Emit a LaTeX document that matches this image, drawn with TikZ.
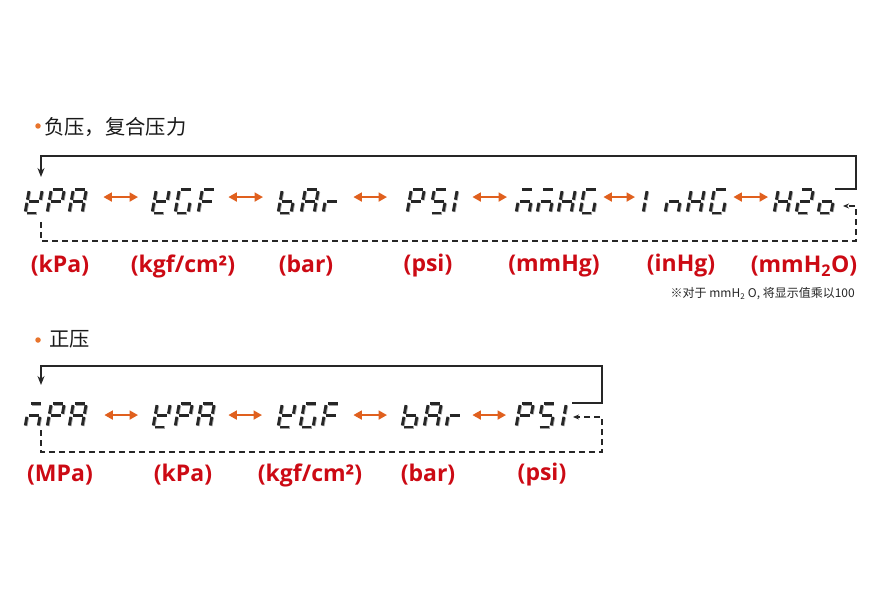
\documentclass[tikz,border=0pt]{standalone}
\usepackage{fontspec}
\setmainfont{Open Sans}
\newfontfamily\cjk{Noto Sans CJK SC}
\usetikzlibrary{arrows.meta}
\definecolor{unitred}{HTML}{CC0A14}
\definecolor{swaporange}{HTML}{E0601E}
\definecolor{dotorange}{HTML}{E8742C}
\definecolor{lcdshade}{HTML}{A0A0A0}
% seven-segment glyphs: a top, b/c right, d bottom, e/f left, g middle
\newcommand\lcdK{b,d,e,f,g}
\newcommand\lcdP{a,b,e,f,g}
\newcommand\lcdA{a,b,c,e,f,g}
\newcommand\lcdG{a,c,d,e,f}
\newcommand\lcdF{a,e,f,g}
\newcommand\lcdB{c,d,e,f,g}
\newcommand\lcdR{e,g}
\newcommand\lcdS{a,c,d,f,g}
\newcommand\lcdI{e,f}
\newcommand\lcdM{a,c,e,g}
\newcommand\lcdN{c,e,g}
\newcommand\lcdH{b,c,e,f,g}
\newcommand\lcdTwo{a,b,d,e,g}
\newcommand\lcdO{c,d,e,g}
\newcommand\segpair[4]{%
 \draw[segshade,xshift=.9pt,yshift=-.6pt](#1,#2)--(#3,#4);
 \draw[segline](#1,#2)--(#3,#4);}
\newcommand\lcdseg[1]{%
 \if#1a\segpair{1.6}{-23.5}{11.4}{-23.5}\fi
 \if#1b\segpair{13}{-21.9}{13}{-13.3}\fi
 \if#1c\segpair{13}{-10.2}{13}{-1.6}\fi
 \if#1d\segpair{1.6}{0}{11.4}{0}\fi
 \if#1e\segpair{0}{-1.6}{0}{-10.2}\fi
 \if#1f\segpair{0}{-13.3}{0}{-21.9}\fi
 \if#1g\segpair{1.6}{-11.75}{11.4}{-11.75}\fi}
\begin{document}
\begin{tikzpicture}[
 x=1pt,y=-1pt,
 segline/.style={line width=2.8pt,black!85},
 segshade/.style={line width=2.8pt,lcdshade},
 pics/lcd/.style={code={\edef\seglist{#1}%
  \begin{scope}[xslant=.18]\foreach \s in \seglist {\lcdseg{\s}}\end{scope}}},
 word/.style={anchor=south west,inner sep=0pt,minimum height=23.5pt},
 swap/.style={swaporange,line width=1.9pt,
  {Triangle[length=8.5pt,width=9pt]}-{Triangle[length=8.5pt,width=9pt]}},
 loopline/.style={line width=1.3pt,black!85},
 dashline/.style={loopline,dash pattern=on 6pt off 4pt},
 unit/.style={text=unitred,font=\fontsize{23}{26}\selectfont\bfseries},
 head/.style={anchor=west,inner sep=0pt,text=black!90,font=\fontsize{20.3}{23}\cjk},
 dot/.style={circle,fill=dotorange,inner sep=0pt,minimum size=5.5pt},
 note/.style={anchor=east,inner sep=0pt,text=black!85,font=\fontsize{12}{14}\cjk}]
 \useasboundingbox (0,0) rectangle (890,593);
 % negative and compound pressure
 \node[dot] (dneg) at (38,126){};
 \node[head] (hneg) at (44,127){负压，复合压力};
 \foreach \gx/\gl in {25/\lcdK,47/\lcdP,69/\lcdA,152/\lcdK,175/\lcdG,198/\lcdF,
  278/\lcdB,301/\lcdA,323/\lcdR,407/\lcdP,430/\lcdS,453/\lcdI,
  516/\lcdM,537/\lcdM,558/\lcdH,580/\lcdG,643/\lcdI,665/\lcdN,687/\lcdH,710/\lcdG,
  774/\lcdH,796/\lcdTwo,818/\lcdO}
  \pic at (\gx,213){lcd=\gl};
 \foreach \nm/\wx/\ww in {kpa/25/61,kgfa/152/63,bara/278/62,psia/407/50,
  mmhg/516/81,inhg/643/84,htwo/774/61}
  \node[word,minimum width=\ww pt] (\nm) at (\wx,213){};
 \foreach \a/\b/\sa/\sb in {kpa/kgfa/17/14,kgfa/bara/13/15,bara/psia/13/20,
  psia/mmhg/15/9,mmhg/inhg/6/8,inhg/htwo/6/6}
  \draw[swap,shorten <=\sa pt,shorten >=\sb pt] ([yshift=4pt]\a.east) -- ([yshift=4pt]\b.west);
 \coordinate (tra) at (856,156); \coordinate (ina) at (41,177);
 \coordinate (outa) at (41,222); \coordinate (bra) at (856,241);
 \coordinate (inb) at (843,206);
 \draw[loopline,-{Stealth[length=9pt,width=7pt]}] (htwo.north east) -| (tra) -| (ina);
 \draw[dashline,-{Stealth[length=6pt,width=5pt]}] (outa) |- (bra) |- (inb);
 \node[unit] (ukpa) at (60,266){(kPa)};
 \node[unit] (ukgfa) at (183,266){(kgf/cm²)};
 \node[unit] (ubara) at (306,266){(bar)};
 \node[unit] (upsia) at (428,266){(psi)};
 \node[unit] (ummhg) at (554,266){(mmHg)};
 \node[unit] (uinhg) at (681,266){(inHg)};
 \node[unit] (uhtwo) at (804,266){(mmH\textsubscript{2}O)};
 \node[note] (note) at (855,294){※对于 mmH\textsubscript{2} O, 将显示值乘以100};
 % positive pressure
 \node[dot] (dpos) at (38,340){};
 \node[head] (hpos) at (49,339){正压};
 \foreach \gx/\gl in {25/\lcdM,47/\lcdP,69/\lcdA,153/\lcdK,175/\lcdP,197/\lcdA,
  278/\lcdK,300/\lcdG,322/\lcdF,402/\lcdB,424/\lcdA,446/\lcdR,
  516/\lcdP,538/\lcdS,562/\lcdI}
  \pic at (\gx,427){lcd=\gl};
 \foreach \nm/\wx/\ww in {mpa/25/61,kpab/153/61,kgfb/278/61,barb/402/61,psib/516/56}
  \node[word,minimum width=\ww pt] (\nm) at (\wx,427){};
 \foreach \a/\b/\sa/\sb in {mpa/kpab/18/15,kpab/kgfb/14/16,kgfb/barb/14/15,barb/psib/9/10}
  \draw[swap,shorten <=\sa pt,shorten >=\sb pt] (\a.east) -- (\b.west);
 \coordinate (trb) at (602,366); \coordinate (inc) at (41,385);
 \coordinate (outb) at (41,430); \coordinate (brb) at (602,452);
 \coordinate (ind) at (573,417);
 \draw[loopline,-{Stealth[length=9pt,width=7pt]}] (psib.north east) -| (trb) -| (inc);
 \draw[dashline,-{Stealth[length=6pt,width=5pt]}] (outb) |- (brb) |- (ind);
 \node[unit] (umpa) at (60,475){(MPa)};
 \node[unit] (ukpab) at (183,475){(kPa)};
 \node[unit] (ukgfb) at (310,475){(kgf/cm²)};
 \node[unit] (ubarb) at (428,475){(bar)};
 \node[unit] (upsib) at (542,475){(psi)};
\end{tikzpicture}
\end{document}
